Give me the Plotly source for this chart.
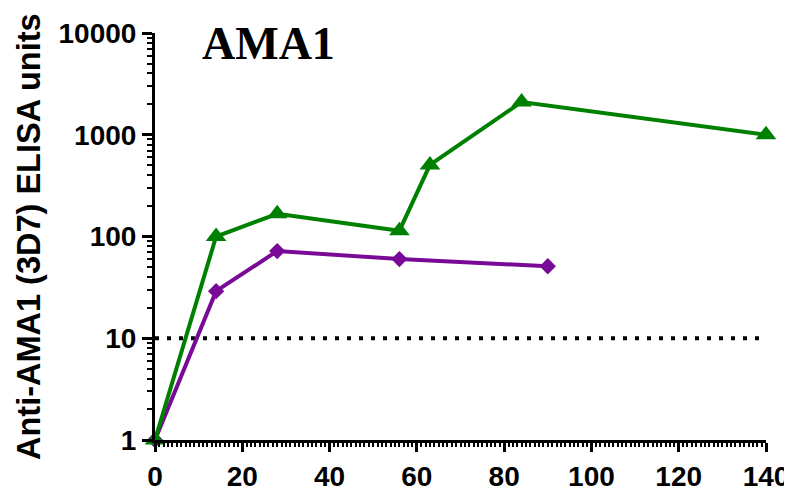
import plotly.graph_objects as go

# Data
green_days = [0, 14, 28, 56, 63, 84, 140]
green_vals = [1, 100, 167, 114, 505, 2100, 1000]
purple_days = [0, 14, 28, 56, 90]
purple_vals = [1, 29, 72, 60, 51]
cutoff_days = [0, 140]
cutoff_vals = [10, 10]
x_ticks = [0, 20, 40, 60, 80, 100, 120, 140]
y_ticks = [1, 10, 100, 1000, 10000]
y_tick_labels = ["1", "10", "100", "1000", "10000"]

GREEN = "#008000"
PURPLE = "#780A96"
FONT = "Liberation Sans, Arial, sans-serif"

fig = go.Figure()
fig.add_trace(go.Scatter(x=cutoff_days, y=cutoff_vals, mode="lines",
                         line=dict(color="black", width=4, dash="4px,8px"),
                         hoverinfo="skip", cliponaxis=False))
fig.add_trace(go.Scatter(x=purple_days, y=purple_vals, mode="lines+markers",
                         line=dict(color=PURPLE, width=4),
                         marker=dict(symbol="diamond", size=12.5, color=PURPLE),
                         cliponaxis=False))
fig.add_trace(go.Scatter(x=green_days, y=green_vals, mode="lines+markers",
                         line=dict(color=GREEN, width=4),
                         marker=dict(symbol="triangle-up", size=18, color=GREEN),
                         cliponaxis=False))

minor_y = [m * 10**d for d in range(4) for m in range(2, 10)]

# page body has an 8px margin, so the figure is 8px smaller and margins shifted
fig.update_layout(
    template="none",
    width=784, height=489,
    margin=dict(l=147, r=26, t=25, b=57, pad=0),
    paper_bgcolor="white", plot_bgcolor="white",
    showlegend=False,
    font=dict(family=FONT, color="black"),
    xaxis=dict(range=[0, 140], tickvals=x_ticks, ticks="outside", ticklen=9, tickwidth=3,
               tickcolor="black", showline=True, linecolor="black", linewidth=3,
               showgrid=False, zeroline=False, automargin=False,
               tickfont=dict(family=FONT, size=28, color="black", weight="bold"),
               minor=dict(dtick=1, ticks="outside", ticklen=4, tickwidth=1.5, tickcolor="black",
                          showgrid=False)),
    yaxis=dict(type="log", range=[0, 4], tickvals=y_ticks, ticktext=y_tick_labels,
               ticks="outside", ticklen=10, tickwidth=3, tickcolor="black",
               showline=True, linecolor="black", linewidth=3,
               showgrid=False, zeroline=False, automargin=False,
               tickfont=dict(family=FONT, size=28, color="black", weight="bold"),
               minor=dict(tickvals=minor_y, ticks="outside", ticklen=5, tickwidth=2,
                          tickcolor="black", showgrid=False)),
    annotations=[
        dict(text="AMA1", xref="paper", yref="paper", x=(268 - 155) / 611, y=(440 - 44) / 407,
             xanchor="center", yanchor="middle", showarrow=False,
             font=dict(family="Liberation Serif, Times New Roman, serif", size=46,
                       color="black", weight="bold")),
        dict(text="Anti-AMA1 (3D7) ELISA units", xref="paper", yref="paper",
             x=(29 - 155) / 611, y=(440 - 237) / 407, xanchor="center", yanchor="middle",
             textangle=-90, showarrow=False,
             font=dict(family=FONT, size=32.5, color="black", weight="bold")),
    ],
)

fig.write_html("out.html")
